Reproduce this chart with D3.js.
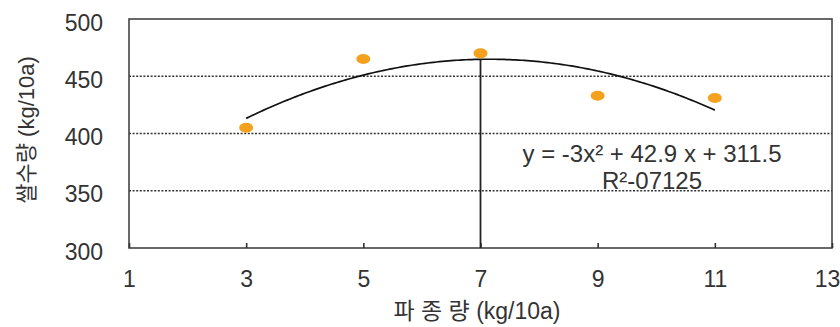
<!DOCTYPE html>
<html>
<head>
<meta charset="utf-8">
<script src="https://cdn.jsdelivr.net/npm/d3@7/dist/d3.min.js"></script>
<style>
  html, body { margin: 0; padding: 0; background: #fff; }
  svg { display: block; }
  text { font-family: "Liberation Sans", Arial, "Noto Sans CJK KR", sans-serif; fill: #333; }
</style>
</head>
<body>
<svg id="chart" width="840" height="327"></svg>
<script>
// Seeding rate (kg/10a) and measured rice yield (kg/10a)
const seedingRates = [3, 5, 7, 9, 11];
const riceYields = [405, 465, 470, 433, 431];

// Quadratic trend: y = a*x^2 + b*x + c
const trendCoeffs = [-3, 42.9, 311.5];
const trendRange = [3, 11];
const markerX = 7;

const xTicks = [1, 3, 5, 7, 9, 11, 13];
const yTicks = [300, 350, 400, 450, 500];
const gridValues = [350, 400, 450];

const yTitle = "쌀수량 (kg/10a)";
const xTitle = "파 종 량 (kg/10a)";
const eqLine1 = "y = -3x² + 42.9 x + 311.5";
const eqLine2 = "R²-07125";

const svg = d3.select("#chart");
const plot = { left: 129, right: 832, top: 19, bottom: 248 };

const x = d3.scaleLinear().domain([1, 13]).range([plot.left, plot.right]);
const y = d3.scaleLinear().domain([300, 500]).range([plot.bottom, plot.top]);

const trend = v => trendCoeffs[0] * v * v + trendCoeffs[1] * v + trendCoeffs[2];

// dotted horizontal grid
svg.append("g")
  .selectAll("line")
  .data(gridValues)
  .join("line")
  .attr("x1", plot.left).attr("x2", plot.right)
  .attr("y1", d => y(d)).attr("y2", d => y(d))
  .attr("stroke", "#333")
  .attr("stroke-width", 1.6)
  .attr("stroke-dasharray", "2,1.6");

// plot frame
svg.append("rect")
  .attr("x", plot.left).attr("y", plot.top)
  .attr("width", plot.right - plot.left)
  .attr("height", plot.bottom - plot.top)
  .attr("fill", "none")
  .attr("stroke", "#444")
  .attr("stroke-width", 1.6);

// x axis: inward ticks on the bottom edge
const xAxis = d3.axisBottom(x).tickValues(xTicks).tickSizeInner(-5).tickSizeOuter(0);
const gx = svg.append("g").attr("transform", `translate(0,${plot.bottom})`).call(xAxis);
gx.select(".domain").remove();
gx.selectAll(".tick line").attr("stroke", "#333").attr("stroke-width", 1.6);
gx.selectAll(".tick text")
  .attr("font-size", 23)
  .attr("fill", "#333")
  .attr("y", 39).attr("dy", null)
  .attr("dx", d => d === 13 ? -5 : 0);

// y axis labels
const yAxis = d3.axisLeft(y).tickValues(yTicks).tickSize(0).tickPadding(26);
const gy = svg.append("g").attr("transform", `translate(${plot.left},0)`).call(yAxis);
gy.select(".domain").remove();
gy.selectAll(".tick text")
  .attr("font-size", 23)
  .attr("fill", "#333")
  .attr("dy", "0.48em");

// trend curve
const samples = d3.range(trendRange[0], trendRange[1] + 0.001, 0.05);
svg.append("path")
  .datum(samples)
  .attr("fill", "none")
  .attr("stroke", "#111")
  .attr("stroke-width", 1.7)
  .attr("d", d3.line().x(d => x(d)).y(d => y(trend(d))));

// vertical marker at the chosen seeding rate
svg.append("line")
  .attr("x1", x(markerX)).attr("x2", x(markerX))
  .attr("y1", y(trend(markerX))).attr("y2", y(300))
  .attr("stroke", "#222")
  .attr("stroke-width", 1.8);

// observations
svg.append("g")
  .selectAll("ellipse")
  .data(seedingRates.map((s, i) => ({ s, v: riceYields[i] })))
  .join("ellipse")
  .attr("cx", d => x(d.s))
  .attr("cy", d => y(d.v))
  .attr("rx", 7).attr("ry", 5)
  .attr("fill", "#f4a11d");

// regression annotation
svg.append("text")
  .attr("x", 652).attr("y", 162)
  .attr("text-anchor", "middle")
  .attr("font-size", 24)
  .text(eqLine1);
svg.append("text")
  .attr("x", 652).attr("y", 189)
  .attr("text-anchor", "middle")
  .attr("font-size", 24)
  .text(eqLine2);

// axis titles
svg.append("text")
  .attr("transform", "translate(34,130) rotate(-90)")
  .attr("text-anchor", "middle")
  .attr("font-size", 22)
  .text(yTitle);
svg.append("text")
  .attr("x", 477).attr("y", 319)
  .attr("text-anchor", "middle")
  .attr("font-size", 23)
  .text(xTitle);
</script>
</body>
</html>
